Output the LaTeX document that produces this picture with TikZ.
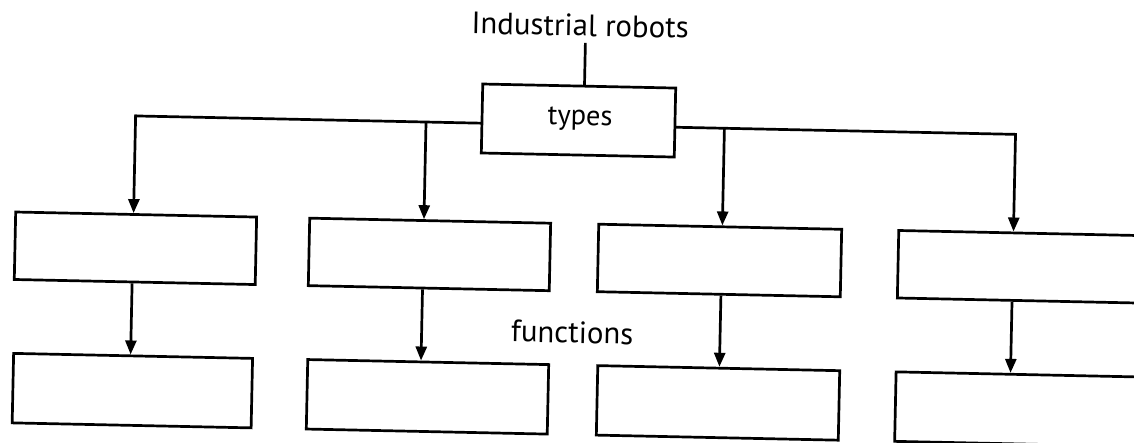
\documentclass[tikz,border=0pt]{standalone}
\usepackage{fontspec}
\setmainfont{PT Sans}
\usetikzlibrary{arrows.meta,calc}
\begin{document}
\begin{tikzpicture}[x=1pt,y=-1pt,
  line width=2.7pt,
  boxa/.style={draw,rectangle,inner sep=0pt,minimum height=67.5pt},
  boxb/.style={draw,rectangle,inner sep=0pt,minimum height=69.5pt},
  lbl/.style={inner sep=0pt,anchor=base,font=\fontsize{30.8}{30.8}\selectfont},
  arr/.style={-{Triangle[length=14pt,width=11pt]}},
  conn/.style={line cap=rect}]
\clip (0,0) rectangle (1134,442);
\fill[white] (0,0) rectangle (1134,442);
\begin{scope}[rotate around={-1.2:(567,221)},transform shape]
  % title and top box
  \node[lbl] (robots) at (576.1,35.7) {Industrial robots};
  \node[draw,rectangle,inner sep=0pt,minimum width=193pt,minimum height=69pt] (types) at (576.4,120.3) {};
  \node[lbl,font=\fontsize{28.5}{28.5}\selectfont] (typestxt) at (578,124.75) {types};
  \coordinate (tline) at (581.7,42.6);
  \draw (tline) -- ($(types.north)+(5.3,0)$);
  % row 1
  \node[boxa,minimum width=241pt] (b1) at (136.1,257.3) {};
  \node[boxa,minimum width=241pt] (b2) at (430.2,257.3) {};
  \node[boxa,minimum width=243pt] (b3) at (720.3,257.3) {};
  \node[boxa,minimum width=271pt] (b4) at (1034.4,257.3) {};
  % row 2
  \node[boxb,minimum width=239pt] (c1) at (136,399.7) {};
  \node[boxb,minimum width=241pt] (c2) at (431.2,399.7) {};
  \node[boxb,minimum width=242pt] (c3) at (721.8,399.7) {};
  \node[boxb,minimum width=271pt] (c4) at (1034.7,399.7) {};
  \node[lbl] (functions) at (574.6,342.9) {functions};
  % bus
  \coordinate (k1) at (133.5,125);
  \coordinate (k2) at (424,125);
  \coordinate (k3) at (722.5,125);
  \coordinate (k4) at (1013.7,125);
  \draw[conn] ($(types.west)+(0,4.7)$) -- (k1);
  \draw[conn] ($(types.east)+(0,4.7)$) -- (k4);
  \draw[arr,conn] (k1) -- ($(b1.north)+(-2.6,0)$);
  \draw[arr] (k2) -- ($(b2.north)+(-6.2,0)$);
  \draw[arr] (k3) -- ($(b3.north)+(2.2,0)$);
  \draw[arr,conn] (k4) -- ($(b4.north)+(-20.7,0)$);
  % lower arrows
  \draw[arr] ($(b1.south)+(-2.6,0)$) -- ($(c1.north)+(-2.5,0)$);
  \draw[arr] ($(b2.south)+(-6.2,0)$) -- ($(c2.north)+(-7.2,0)$);
  \draw[arr] ($(b3.south)+(2.2,0)$) -- ($(c3.north)+(0.7,0)$);
  \draw[arr] ($(b4.south)+(-20.7,0)$) -- ($(c4.north)+(-21,0)$);
\end{scope}
\end{tikzpicture}
\end{document}
